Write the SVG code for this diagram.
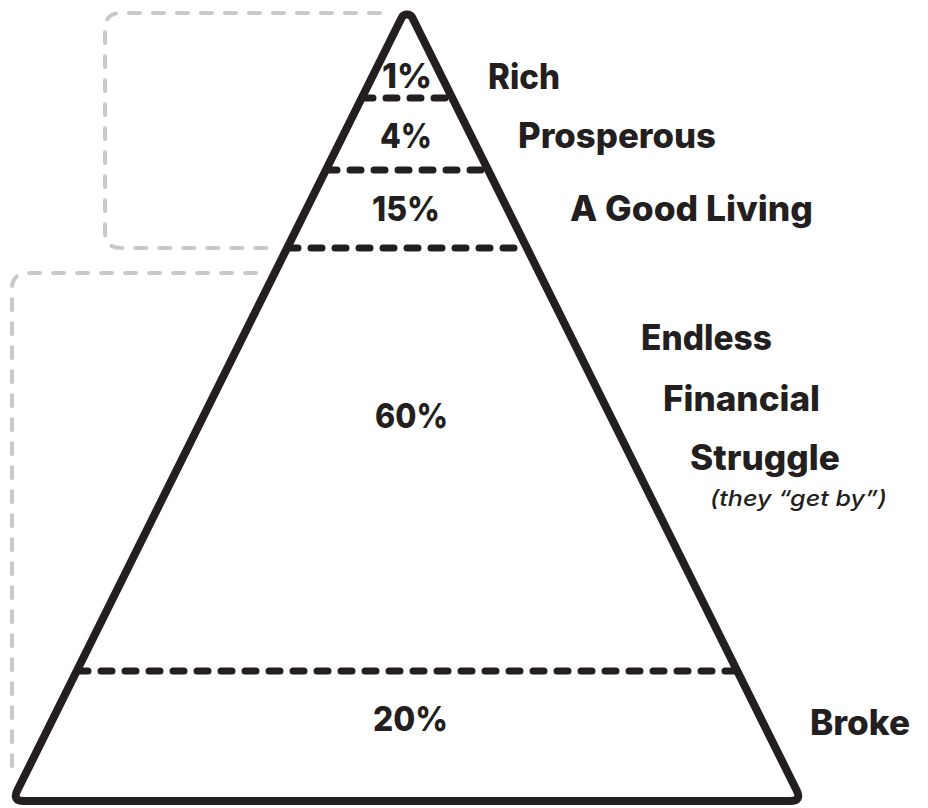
<svg xmlns="http://www.w3.org/2000/svg" width="928" height="808" viewBox="0 0 928 808">
  <style>
    .bracket { fill: none; stroke: #c8c9cb; stroke-width: 4; stroke-dasharray: 11 13; stroke-linecap: round; }
    .outline { fill: none; stroke: #231f20; stroke-width: 8; stroke-linejoin: round; }
    .divider { fill: none; stroke: #231f20; stroke-width: 7; stroke-dasharray: 11 13; stroke-linecap: round; }
    .pct { font-family: Inter, Lato, "Liberation Sans", sans-serif; font-weight: 800; font-size: 34px; fill: #231f20; }
    .label { font-family: Inter, Lato, "Liberation Sans", sans-serif; font-weight: 800; font-size: 35px; fill: #231f20; }
    .note { font-family: Inter, Lato, "Liberation Sans", sans-serif; font-style: italic; font-weight: 500; font-size: 22px; fill: #231f20; }
  </style>
  <rect width="928" height="808" fill="#ffffff"/>

  <!-- grey dashed brackets grouping the tiers -->
  <g id="brackets">
    <path class="bracket" d="M 380 13 H 121 Q 105 13 105 29 V 232 Q 105 248 121 248 H 267"/>
    <path class="bracket" d="M 256 273 H 28 Q 12 273 12 289 V 767"/>
  </g>

  <!-- pyramid outline with rounded apex and base corners -->
  <g id="pyramid">
    <path class="outline" d="M 407 801 H 790 Q 802 801 796.6 790.3 L 412.36 17.73 A 6 6 0 0 0 401.64 17.73 L 17.4 790.3 Q 12 801 24 801 Z"/>
  </g>

  <!-- tier dividers -->
  <g id="connectors">
    <line class="divider" x1="362" y1="98" x2="452" y2="98"/>
    <line class="divider" x1="326" y1="170" x2="488" y2="170"/>
    <line class="divider" x1="287" y1="248" x2="527" y2="248"/>
    <line class="divider" x1="77" y1="671" x2="737" y2="671"/>
  </g>

  <g id="tier-rich">
    <text class="pct" x="382" y="88" textLength="50" lengthAdjust="spacingAndGlyphs">1%</text>
    <text class="label" x="488" y="89" textLength="72" lengthAdjust="spacingAndGlyphs">Rich</text>
  </g>
  <g id="tier-prosperous">
    <text class="pct" x="380" y="148" textLength="52" lengthAdjust="spacingAndGlyphs">4%</text>
    <text class="label" x="518" y="148" textLength="198" lengthAdjust="spacingAndGlyphs">Prosperous</text>
  </g>
  <g id="tier-good-living">
    <text class="pct" x="372" y="221" textLength="68" lengthAdjust="spacingAndGlyphs">15%</text>
    <text class="label" x="570" y="221" textLength="243" lengthAdjust="spacingAndGlyphs">A Good Living</text>
  </g>
  <g id="tier-struggle">
    <text class="pct" x="375" y="428" textLength="73" lengthAdjust="spacingAndGlyphs">60%</text>
    <text class="label" x="641" y="350" textLength="131" lengthAdjust="spacingAndGlyphs">Endless</text>
    <text class="label" x="663" y="411" textLength="157" lengthAdjust="spacingAndGlyphs">Financial</text>
    <text class="label" x="690" y="470" textLength="150" lengthAdjust="spacingAndGlyphs">Struggle</text>
    <text class="note" x="710" y="506" textLength="177" lengthAdjust="spacingAndGlyphs">(they “get by”)</text>
  </g>
  <g id="tier-broke">
    <text class="pct" x="373" y="731" textLength="75" lengthAdjust="spacingAndGlyphs">20%</text>
    <text class="label" x="810" y="735" textLength="100" lengthAdjust="spacingAndGlyphs">Broke</text>
  </g>
</svg>
